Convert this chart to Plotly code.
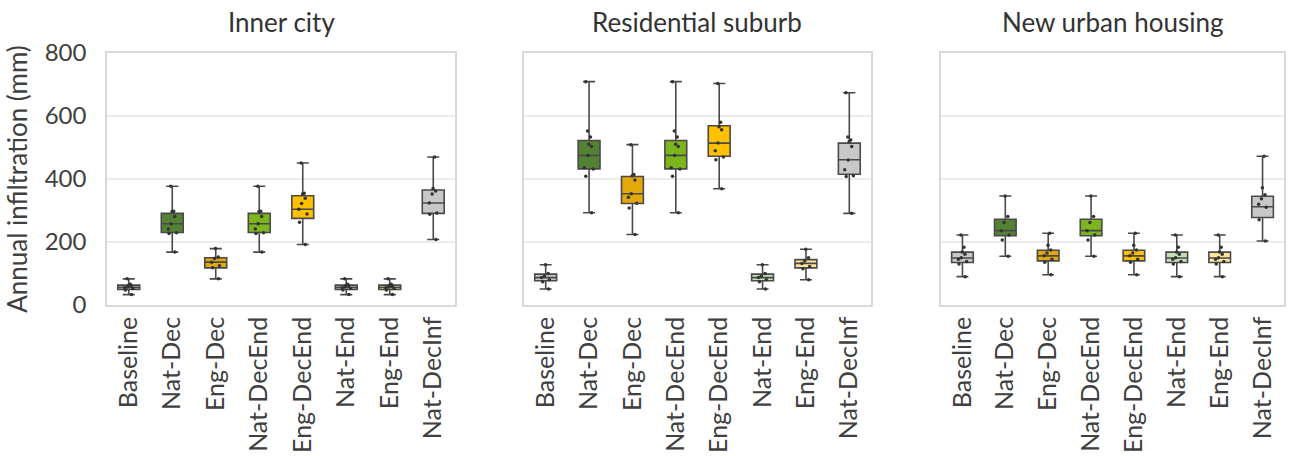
import plotly.graph_objects as go
from plotly.subplots import make_subplots

categories = ["Baseline", "Nat-Dec", "Eng-Dec", "Nat-DecEnd", "Eng-DecEnd", "Nat-End", "Eng-End", "Nat-DecInf"]
panels = ["Inner city", "Residential suburb", "New urban housing"]
colors = ["#c8c8c8", "#548235", "#e3a80a", "#7db51c", "#ffc000", "#c5e0b4", "#ffe699", "#c8c8c8"]

# Inner city
inner_low = [33, 168, 83, 168, 192, 33, 33, 208]
inner_q1 = [49, 230, 118, 230, 275, 49, 49, 291]
inner_med = [56, 258, 136, 258, 304, 56, 56, 324]
inner_q3 = [63, 291, 150, 291, 347, 63, 63, 365]
inner_high = [83, 377, 179, 377, 451, 83, 83, 470]
inner_points = [
    [33, 48, 52, 55, 57, 60, 63, 66, 83],
    [168, 227, 229, 241, 258, 281, 297, 298, 377],
    [83, 118, 125, 136, 148, 152, 179],
    [168, 227, 229, 241, 258, 281, 297, 298, 377],
    [192, 263, 289, 304, 322, 339, 352, 355, 451],
    [33, 48, 52, 55, 57, 60, 63, 66, 83],
    [33, 48, 52, 55, 57, 60, 63, 66, 83],
    [208, 288, 292, 324, 352, 362, 370, 470],
]

# Residential suburb
suburb_low = [51, 293, 224, 293, 369, 51, 80, 291]
suburb_q1 = [77, 432, 322, 432, 472, 77, 118, 415]
suburb_med = [87, 475, 353, 475, 514, 87, 132, 461]
suburb_q3 = [98, 522, 408, 522, 569, 98, 144, 514]
suburb_high = [128, 709, 509, 709, 703, 128, 177, 674]
suburb_points = [
    [51, 74, 80, 87, 92, 100, 128],
    [293, 409, 432, 436, 475, 503, 510, 533, 552, 709],
    [224, 308, 323, 342, 353, 397, 410, 414, 509],
    [293, 409, 432, 436, 475, 503, 510, 533, 552, 709],
    [369, 461, 470, 490, 514, 556, 566, 580, 703],
    [51, 74, 80, 87, 92, 100, 128],
    [80, 115, 122, 132, 140, 150, 177],
    [291, 408, 410, 429, 460, 503, 518, 524, 533, 674],
]

# New urban housing
urban_low = [90, 155, 96, 155, 96, 90, 90, 203]
urban_q1 = [135, 220, 140, 220, 140, 135, 135, 278]
urban_med = [149, 236, 156, 236, 156, 149, 149, 312]
urban_q3 = [168, 272, 174, 272, 174, 168, 168, 345]
urban_high = [222, 346, 228, 346, 228, 222, 222, 472]
urban_points = [
    [90, 130, 138, 145, 150, 161, 168, 183, 222],
    [155, 206, 222, 236, 262, 281, 346],
    [96, 136, 145, 156, 165, 175, 190, 228],
    [155, 206, 222, 236, 262, 281, 346],
    [96, 136, 145, 156, 165, 175, 190, 228],
    [90, 130, 138, 145, 150, 161, 168, 183, 222],
    [90, 130, 138, 145, 150, 161, 168, 183, 222],
    [203, 271, 310, 320, 337, 350, 372, 472],
]

y_ticks = [0, 200, 400, 600, 800]

data = [
    (inner_low, inner_q1, inner_med, inner_q3, inner_high, inner_points),
    (suburb_low, suburb_q1, suburb_med, suburb_q3, suburb_high, suburb_points),
    (urban_low, urban_q1, urban_med, urban_q3, urban_high, urban_points),
]

FONT = "Lato"
TXT = "#404040"

fig = make_subplots(rows=1, cols=3, shared_yaxes=True)

for p, (lo, q1, md, q3, hi, pts) in enumerate(data):
    col = p + 1
    for i, cat in enumerate(categories):
        fig.add_trace(go.Box(
            x=[cat], q1=[q1[i]], median=[md[i]], q3=[q3[i]],
            lowerfence=[lo[i]], upperfence=[hi[i]],
            fillcolor=colors[i], line=dict(color="#4a4a4a", width=1.6),
            whiskerwidth=0.55, boxpoints=False, showlegend=False,
        ), row=1, col=col)
    for i, cat in enumerate(categories):
        fig.add_trace(go.Box(
            x=[cat] * len(pts[i]), y=pts[i],
            boxpoints="all", jitter=0.5, pointpos=0,
            fillcolor="rgba(0,0,0,0)", line=dict(color="rgba(0,0,0,0)", width=0),
            marker=dict(color="#333333", size=3.5),
            whiskerwidth=0, showlegend=False,
        ), row=1, col=col)

W, H = 1291, 456
ml, mr, mt, mb = 107, 7, 53, 151
pw = W - ml - mr
doms = [(107, 455), (524, 871), (941, 1284)]

fig.update_layout(
    width=W, height=H,
    margin=dict(l=ml, r=mr, t=mt, b=mb, autoexpand=False),
    plot_bgcolor="white", paper_bgcolor="white",
    boxmode="overlay", boxgap=0.28,
    font=dict(family=FONT, size=24, color=TXT),
)

for k, (a, b) in enumerate(doms):
    xname = "xaxis" if k == 0 else f"xaxis{k+1}"
    yname = "yaxis" if k == 0 else f"yaxis{k+1}"
    fig.layout[xname].update(
        domain=[(a - ml) / pw, (b - ml) / pw],
        type="category", categoryorder="array", categoryarray=categories,
        range=[-0.5, 7.5], tickangle=-90, showline=True, mirror=True,
        linecolor="#d9d9d9", linewidth=1.5, showgrid=False, ticks="",
        automargin=False,
        tickfont=dict(family=FONT, size=25, color=TXT),
    )
    fig.layout[yname].update(
        range=[0, 800], tickvals=y_ticks, showline=True, mirror=True,
        linecolor="#d9d9d9", linewidth=1.5, showgrid=True,
        gridcolor="#ececec", gridwidth=1.5, zeroline=False, ticks="",
        showticklabels=(k == 0), automargin=False,
        tickfont=dict(family=FONT, size=24, color=TXT),
    )
    fig.add_annotation(
        text=panels[k], x=((a + b) / 2 - ml) / pw, xref="paper", xanchor="center",
        y=1, yref="paper", yanchor="middle", yshift=31, showarrow=False,
        font=dict(family=FONT, size=26, color="#333333"),
    )

fig.layout.yaxis.update(title=dict(text="Annual infiltration (mm)", standoff=10,
                                   font=dict(family=FONT, size=26, color=TXT)),
                        ticklabelstandoff=14)

fig.write_html("out.html", config={"displayModeBar": False},
               post_script="document.body.style.margin='0';document.body.style.overflow='hidden';")
